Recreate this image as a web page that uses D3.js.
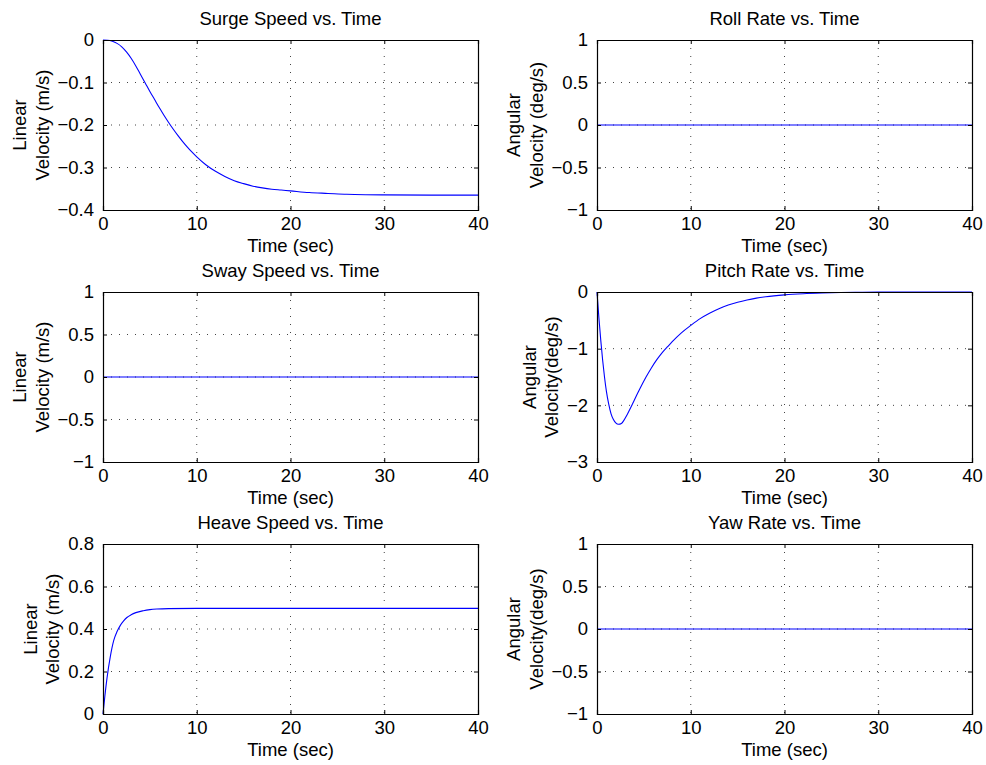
<!DOCTYPE html>
<html>
<head>
<meta charset="utf-8">
<script src="https://cdn.jsdelivr.net/npm/d3@7"></script>
<style>
  body { margin: 0; background: #fff; }
  text { font-family: "Liberation Sans", Arial, sans-serif; fill: #000; }
</style>
</head>
<body>
<svg width="986" height="765"></svg>
<script>
var svg = d3.select("svg");

// Time ticks shared by all panels
var timeTicks = [0, 10, 20, 30, 40];

// Surge speed (m/s)
var surgeT = [0, 0.5, 1, 1.5, 2, 2.5, 3, 3.5, 4, 4.5, 5, 5.5, 6, 6.5, 7, 7.5, 8, 8.5, 9, 9.5, 10,
  11, 12, 13, 14, 15, 16, 17, 18, 19, 20, 22, 24, 26, 28, 30, 35, 40];
var surgeV = [0, -0.0005, -0.003, -0.008, -0.016, -0.028, -0.043, -0.061, -0.081, -0.101, -0.121,
  -0.140, -0.159, -0.177, -0.194, -0.210, -0.225, -0.239, -0.252, -0.264, -0.275,
  -0.294, -0.309, -0.321, -0.331, -0.338, -0.344, -0.348, -0.351, -0.353, -0.355,
  -0.359, -0.361, -0.363, -0.364, -0.3645, -0.365, -0.365];

// Pitch rate (deg/s)
var pitchT = [0, 0.2, 0.4, 0.6, 0.8, 1.0, 1.25, 1.5, 1.75, 2.0, 2.3, 2.6, 2.85, 3.2, 3.6, 4, 4.6,
  5.2, 5.8, 6.4, 7, 7.5, 8, 9, 10, 11, 12, 13, 14, 15, 16, 17, 18, 20, 22, 24, 26, 28, 30, 35, 40];
var pitchV = [0, -0.45, -0.85, -1.2, -1.5, -1.75, -1.98, -2.15, -2.25, -2.31, -2.335, -2.32, -2.27,
  -2.17, -2.04, -1.90, -1.70, -1.51, -1.34, -1.19, -1.06, -0.97, -0.88, -0.72, -0.59, -0.47,
  -0.375, -0.295, -0.23, -0.18, -0.14, -0.108, -0.083, -0.05, -0.03, -0.018, -0.01, -0.006,
  -0.003, -0.001, 0];

// Heave speed (m/s)
var heaveT = [0, 0.2, 0.43, 0.78, 1.14, 1.5, 1.85, 2.2, 2.55, 3.0, 3.5, 4.3, 5, 5.75, 7, 10, 20, 30, 40];
var heaveV = [0, 0.085, 0.17, 0.27, 0.345, 0.388, 0.417, 0.438, 0.454, 0.467, 0.477, 0.486, 0.491,
  0.494, 0.496, 0.497, 0.497, 0.497, 0.497];

// Sway, roll and yaw stay at zero
var flatT = [0, 40];
var flatV = [0, 0];

var panels = [
  { title: "Surge Speed vs. Time", label: ["Linear", "Velocity (m/s)"], t: surgeT, v: surgeV,
    domain: [-0.4, 0], ticks: [-0.4, -0.3, -0.2, -0.1, 0], col: 0, row: 0 },
  { title: "Roll Rate vs. Time", label: ["Angular", "Velocity (deg/s)"], t: flatT, v: flatV,
    domain: [-1, 1], ticks: [-1, -0.5, 0, 0.5, 1], col: 1, row: 0 },
  { title: "Sway Speed vs. Time", label: ["Linear", "Velocity (m/s)"], t: flatT, v: flatV,
    domain: [-1, 1], ticks: [-1, -0.5, 0, 0.5, 1], col: 0, row: 1 },
  { title: "Pitch Rate vs. Time", label: ["Angular", "Velocity(deg/s)"], t: pitchT, v: pitchV,
    domain: [-3, 0], ticks: [-3, -2, -1, 0], col: 1, row: 1 },
  { title: "Heave Speed vs. Time", label: ["Linear", "Velocity (m/s)"], t: heaveT, v: heaveV,
    domain: [0, 0.8], ticks: [0, 0.2, 0.4, 0.6, 0.8], col: 0, row: 2 },
  { title: "Yaw Rate vs. Time", label: ["Angular", "Velocity(deg/s)"], t: flatT, v: flatV,
    domain: [-1, 1], ticks: [-1, -0.5, 0, 0.5, 1], col: 1, row: 2 }
];

var colX = [103, 597];
var rowY = [40, 292, 544];
var w = 375, h = 170;
var fs = "18.5px";
var fmt = function(d) { return d3.format("")(d).replace("-", "\u2212"); };

panels.forEach(function(p) {
  var g = svg.append("g")
    .attr("transform", "translate(" + colX[p.col] + "," + rowY[p.row] + ")");

  var x = d3.scaleLinear().domain([0, 40]).range([0, w]);
  var y = d3.scaleLinear().domain(p.domain).range([h, 0]);

  // dotted grid
  g.append("g").selectAll("line.gx")
    .data(timeTicks.slice(1, -1))
    .enter().append("line")
    .attr("x1", function(d) { return x(d); }).attr("x2", function(d) { return x(d); })
    .attr("y1", 0).attr("y2", h)
    .attr("stroke", "#444").attr("stroke-dasharray", "1,7");
  g.append("g").selectAll("line.gy")
    .data(p.ticks.slice(1, -1))
    .enter().append("line")
    .attr("y1", function(d) { return y(d); }).attr("y2", function(d) { return y(d); })
    .attr("x1", 0).attr("x2", w)
    .attr("stroke", "#444").attr("stroke-dasharray", "1,7");

  // curve
  var pts = p.t.map(function(t, i) { return [t, p.v[i]]; });
  g.append("path")
    .datum(pts)
    .attr("fill", "none")
    .attr("stroke", "#0000ff")
    .attr("stroke-width", 1.1)
    .attr("d", d3.line()
      .x(function(d) { return x(d[0]); })
      .y(function(d) { return y(d[1]); })
      .curve(d3.curveMonotoneX));

  // axes, ticks pointing inward like MATLAB
  var axB = g.append("g").attr("transform", "translate(0," + h + ")")
    .call(d3.axisBottom(x).tickValues(timeTicks).tickSize(-4).tickPadding(7).tickFormat(fmt));
  var axT = g.append("g")
    .call(d3.axisTop(x).tickValues(timeTicks).tickSize(-4).tickFormat(""));
  var axL = g.append("g")
    .call(d3.axisLeft(y).tickValues(p.ticks).tickSize(-4).tickPadding(9).tickFormat(fmt));
  var axR = g.append("g").attr("transform", "translate(" + w + ",0)")
    .call(d3.axisRight(y).tickValues(p.ticks).tickSize(-4).tickFormat(""));

  [axB, axT, axL, axR].forEach(function(a) {
    a.select(".domain").attr("stroke", "#000").attr("stroke-width", 1.2);
    a.selectAll(".tick line").attr("stroke", "#000");
    a.selectAll("text").style("font-size", fs).attr("fill", "#000")
      .style("font-family", "Liberation Sans, Arial, sans-serif");
  });
  axB.selectAll("text").attr("dy", "0.72em");

  // title
  g.append("text")
    .attr("x", w / 2).attr("y", -15)
    .attr("text-anchor", "middle")
    .style("font-size", fs)
    .text(p.title);

  // x label
  g.append("text")
    .attr("x", w / 2).attr("y", h + 42)
    .attr("text-anchor", "middle")
    .style("font-size", fs)
    .text("Time (sec)");

  // two-line y label, placed left of the widest tick label
  var maxW = 0;
  axL.selectAll("text").each(function() { maxW = Math.max(maxW, this.getBBox().width); });
  var lx = -13 - maxW - 27;
  var yl = g.append("text")
    .attr("transform", "translate(" + lx + "," + (h / 2) + ") rotate(-90)")
    .attr("text-anchor", "middle")
    .style("font-size", fs);
  yl.append("tspan").attr("x", 0).attr("dy", "0").text(p.label[0]);
  yl.append("tspan").attr("x", 0).attr("dy", "1.2em").text(p.label[1]);
});
</script>
</body>
</html>
